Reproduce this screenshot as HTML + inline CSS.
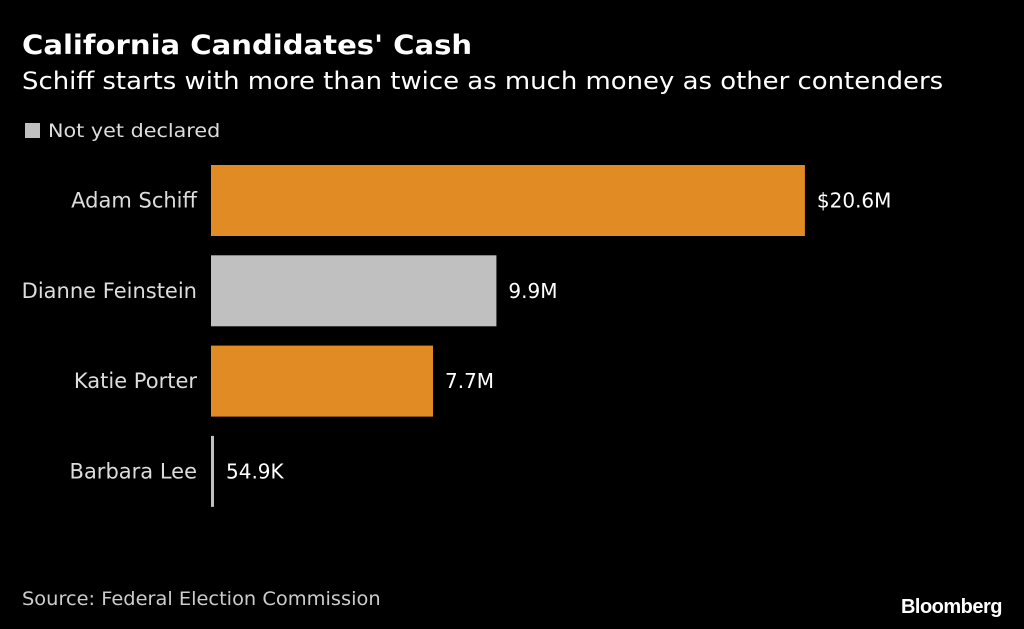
<!DOCTYPE html>
<html><head><meta charset="utf-8"><style>
html,body{margin:0;padding:0;background:#000;}
body{width:1024px;height:629px;position:relative;overflow:hidden;font-family:"DejaVu Sans","Liberation Sans",sans-serif;color:#fff;}
.t{position:absolute;white-space:nowrap;transform-origin:0 0;}
</style></head><body>
<div class="t" style="left:22px;top:30px;font-size:27px;font-weight:bold;transform:scaleX(1.077);">California Candidates' Cash</div>
<div class="t" style="left:22px;top:67px;font-size:24px;transform:scaleX(1.08);">Schiff starts with more than twice as much money as other contenders</div>
<div class="t" style="left:25px;top:120px;font-size:19px;color:#ddd;"><span style="display:inline-block;width:15px;height:15px;background:#c0c0c0;vertical-align:-1px;margin-right:8px;"></span><span style="display:inline-block;transform:scaleX(1.09);transform-origin:0 0;">Not yet declared</span></div>
<svg id="chart" width="1024" height="629" style="position:absolute;left:0;top:0"></svg>
<div class="t" style="left:22px;top:588px;font-size:19px;color:#ccc;transform:scaleX(1.02);">Source: Federal Election Commission</div>
<div class="t" style="right:22px;top:596px;font-size:20px;font-weight:bold;font-family:'Liberation Sans',sans-serif;letter-spacing:-0.5px;">Bloomberg</div>
<script>
const categories=["Adam Schiff","Dianne Feinstein","Katie Porter","Barbara Lee"];
const values=[20.6,9.9,7.7,0.0549];
const labels=["$20.6M","9.9M","7.7M","54.9K"];
const declared=[true,false,true,false];
const svg=document.getElementById('chart');
const NS='http://www.w3.org/2000/svg';
const x0=211,pxPerM=28.83;
function xs(v){return v*pxPerM;}
function yb(i){return 165+i*90.3;}
const bh=71;
categories.forEach((c,i)=>{
  const w=Math.max(xs(values[i]),3);
  const r=document.createElementNS(NS,'rect');
  r.setAttribute('x',x0);r.setAttribute('y',yb(i));r.setAttribute('width',w);r.setAttribute('height',bh);
  r.setAttribute('fill',declared[i]?'#e08b24':'#c0c0c0');
  
  
  svg.appendChild(r);
  const t=document.createElementNS(NS,'text');
  t.setAttribute('x',197);t.setAttribute('y',yb(i)+bh/2+7);t.setAttribute('text-anchor','end');
  t.setAttribute('fill','#ddd');t.setAttribute('font-size','21');t.textContent=c;
  
  
  svg.appendChild(t);
  const v=document.createElementNS(NS,'text');
  v.setAttribute('x',x0+w+12);v.setAttribute('y',yb(i)+bh/2+7);
  v.setAttribute('fill','#fff');v.setAttribute('font-size','20');v.textContent=labels[i];
  
  
  svg.appendChild(v);
});
</script>
</body></html>
